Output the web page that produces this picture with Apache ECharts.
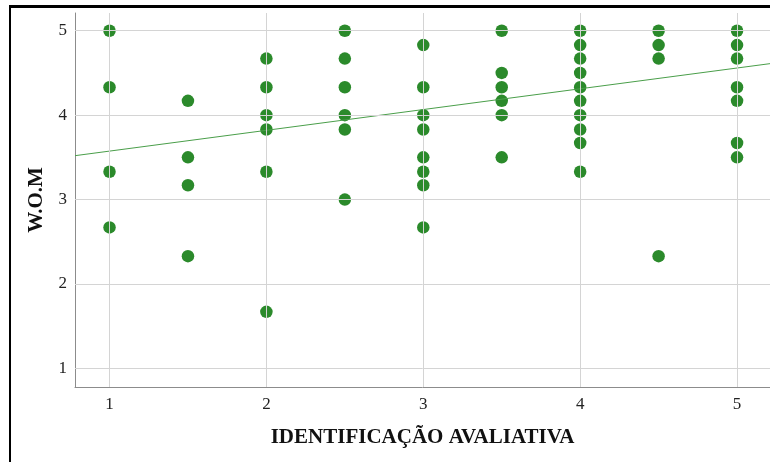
<!DOCTYPE html>
<html>
<head>
<meta charset="utf-8">
<script src="https://cdn.jsdelivr.net/npm/echarts@6/dist/echarts.min.js"></script>
<style>
  html, body { margin: 0; padding: 0; background: #fff; }
  #frame { position: absolute; left: 9px; top: 5px; width: 770px; height: 455px;
           border-left: 2px solid #000; border-top: 3px solid #000; border-bottom: 1px solid #a0a0a0; box-sizing: content-box; }
  #chart { position: absolute; left: 0; top: 0; width: 770px; height: 462px; }
</style>
</head>
<body>
<div id="frame"></div>
<div id="chart"></div>
<script>
// Scatter points: [IDENTIFICAÇÃO AVALIATIVA, W.O.M]
const xGroups = [1, 1.5, 2, 2.5, 3, 3.5, 4, 4.5, 5];
const yAt1   = [5, 4.33, 3.33, 2.67];
const yAt15  = [4.17, 3.5, 3.17, 2.33];
const yAt2   = [4.67, 4.33, 4.0, 3.83, 3.33, 1.67];
const yAt25  = [5, 4.67, 4.33, 4.0, 3.83, 3.0];
const yAt3   = [4.83, 4.33, 4.0, 3.83, 3.5, 3.33, 3.17, 2.67];
const yAt35  = [5, 4.5, 4.33, 4.17, 4.0, 3.5];
const yAt4   = [5, 4.83, 4.67, 4.5, 4.33, 4.17, 4.0, 3.83, 3.67, 3.33];
const yAt45  = [5, 4.83, 4.67, 2.33];
const yAt5   = [5, 4.83, 4.67, 4.33, 4.17, 3.67, 3.5];
const yGroups = [yAt1, yAt15, yAt2, yAt25, yAt3, yAt35, yAt4, yAt45, yAt5];

// Fit line end points
const fitLine = [[0.78, 3.52], [5.21, 4.61]];

const xTicks = [1, 2, 3, 4, 5];
const yTicks = [1, 2, 3, 4, 5];
const xRange = [0.78, 5.21];
const yRange = [0.78, 5.21];

const points = [];
xGroups.forEach((x, i) => yGroups[i].forEach(y => points.push([x, y])));

const serif = "'Liberation Serif', 'DejaVu Serif', serif";
const gridColor = '#d4d4d4';

const chart = echarts.init(document.getElementById('chart'), null, { renderer: 'canvas' });
chart.setOption({
  animation: false,
  backgroundColor: 'transparent',
  grid: { left: 75, top: 13, right: 0, bottom: 75, containLabel: false },
  xAxis: {
    type: 'value', min: xRange[0], max: xRange[1], splitNumber: 4,
    name: 'IDENTIFICAÇÃO AVALIATIVA', nameLocation: 'middle', nameGap: 40,
    nameTextStyle: { fontFamily: serif, fontWeight: 'bold', fontSize: 21, color: '#111' },
    axisLine: { show: true, lineStyle: { color: '#8c8c8c', width: 1 } },
    axisTick: { show: false },
    splitLine: { show: false },
    axisLabel: {
      margin: 9, fontFamily: serif, fontSize: 17, color: '#222',
      showMinLabel: false, showMaxLabel: false,
      formatter: v => xTicks.includes(v) ? String(v) : ''
    }
  },
  yAxis: {
    type: 'value', min: yRange[0], max: yRange[1], splitNumber: 4,
    name: 'W.O.M', nameLocation: 'middle', nameGap: 28, nameRotate: 90,
    nameTextStyle: { fontFamily: serif, fontWeight: 'bold', fontSize: 21, color: '#111' },
    axisLine: { show: true, lineStyle: { color: '#8c8c8c', width: 1 } },
    axisTick: { show: false },
    splitLine: { show: false },
    axisLabel: {
      margin: 8, fontFamily: serif, fontSize: 17, color: '#222',
      showMinLabel: false, showMaxLabel: false,
      formatter: v => yTicks.includes(v) ? String(v) : ''
    }
  },
  series: [
    {
      type: 'line', data: [], silent: true, z: 1,
      markLine: {
        silent: true, symbol: ['none', 'none'], animation: false,
        label: { show: false },
        lineStyle: { color: gridColor, width: 1, type: 'solid' },
        data: xTicks.map(v => ({ xAxis: v })).concat(yTicks.map(v => ({ yAxis: v })))
      }
    },
    {
      type: 'scatter', data: points, symbolSize: 12.5, z: 2,
      itemStyle: { color: '#2b8a2b', opacity: 1 }
    },
    {
      type: 'line', data: fitLine, symbol: 'none', silent: true, z: 3,
      lineStyle: { color: '#4a9e4a', width: 1 }
    }
  ]
});
</script>
</body>
</html>
